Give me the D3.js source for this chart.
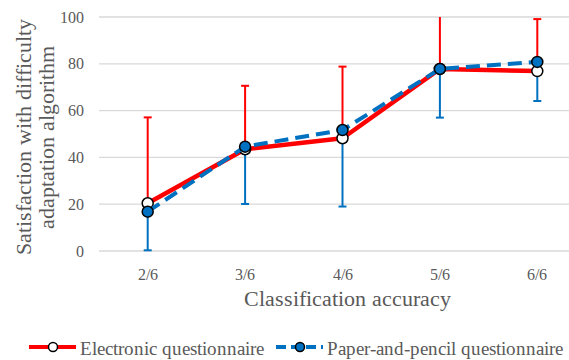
<!DOCTYPE html>
<html>
<head>
<meta charset="utf-8">
<script src="https://cdn.jsdelivr.net/npm/d3@7"></script>
<style>
  @font-face {
    font-family: "ChartSerif";
    src: local("Liberation Serif"), local("LiberationSerif"), local("LiberationSerif-Regular"), local("DejaVu Serif");
  }
</style>
</head>
<body style="margin:0">
<script>
const categories = ["2/6", "3/6", "4/6", "5/6", "6/6"];
const electronic = [20.4, 43.5, 48.2, 77.8, 76.9];
const electronicUpper = [57.1, 70.6, 78.8, 104, 99.1];
const paper = [16.8, 44.6, 51.7, 77.8, 80.8];
const paperLower = [0.3, 20.1, 19.0, 57.0, 64.1];
const yTicks = [0, 20, 40, 60, 80, 100];

const width = 569, height = 360,
      margin = {top: 17, right: -17, bottom: 109, left: 99};

const textColor = "#595959";

const svg = d3.select("body").append("svg")
  .attr("width", width).attr("height", height)
  .style("display", "block")
  .style("font-family", "ChartSerif, 'Liberation Serif', serif");

const x = d3.scaleBand().domain(categories)
  .range([margin.left, width - margin.right]);
const y = d3.scaleLinear().domain([0, 100])
  .range([height - margin.bottom, margin.top]);
const cx = (d) => x(d) + x.bandwidth() / 2;

function label(sel, size) {
  return sel.style("font-family", "ChartSerif, 'Liberation Serif', serif")
    .attr("font-size", size)
    .attr("fill", textColor);
}

svg.append("clipPath").attr("id", "plotclip")
  .append("rect")
  .attr("x", margin.left).attr("y", y(100))
  .attr("width", width).attr("height", y(0) - y(100) + 10);

// gridlines
svg.append("g").selectAll("line").data(yTicks).enter().append("line")
  .attr("x1", margin.left).attr("x2", width)
  .attr("y1", (d) => y(d)).attr("y2", (d) => y(d))
  .attr("stroke", "#d9d9d9").attr("stroke-width", 1.3);

// y tick labels
label(svg.append("g").selectAll("text").data(yTicks).enter().append("text")
  .attr("x", 84).attr("y", (d) => y(d))
  .attr("dy", "0.35em").attr("text-anchor", "end"), 16)
  .text((d) => d);

// x tick labels
label(svg.append("g").selectAll("text").data(categories).enter().append("text")
  .attr("x", (d) => cx(d)).attr("y", 280)
  .attr("text-anchor", "middle"), 16)
  .text((d) => d);

// axis titles
label(svg.append("text")
  .attr("x", 347).attr("y", 306).attr("text-anchor", "middle"), 21.5)
  .text("Classification accuracy");

const yTitle = label(svg.append("text")
  .attr("transform", "translate(0,137) rotate(-90)")
  .attr("text-anchor", "middle"), 21.5);
yTitle.append("tspan").attr("x", 0).attr("y", 31).text("Satisfaction with difficulty");
yTitle.append("tspan").attr("x", 0).attr("y", 54).text("adaptation algorithm");

const plot = svg.append("g").attr("clip-path", "url(#plotclip)");

const red = "#ff0000", blue = "#0070c0";

function errorBars(vals, ends, color) {
  const g = plot.append("g");
  categories.forEach((c, i) => {
    g.append("line")
      .attr("x1", cx(c)).attr("x2", cx(c))
      .attr("y1", y(vals[i])).attr("y2", y(ends[i]))
      .attr("stroke", color).attr("stroke-width", 2);
    g.append("line")
      .attr("x1", cx(c) - 4).attr("x2", cx(c) + 4)
      .attr("y1", y(ends[i])).attr("y2", y(ends[i]))
      .attr("stroke", color).attr("stroke-width", 2);
  });
}

errorBars(electronic, electronicUpper, red);
errorBars(paper, paperLower, blue);

const line = d3.line().x((d, i) => cx(categories[i])).y((d) => y(d));

plot.append("path").datum(electronic)
  .attr("d", line).attr("fill", "none")
  .attr("stroke", red).attr("stroke-width", 4.5).attr("stroke-linejoin", "round");
plot.selectAll(".m-e").data(electronic).enter().append("circle")
  .attr("cx", (d, i) => cx(categories[i])).attr("cy", (d) => y(d))
  .attr("r", 5.5).attr("fill", "#fff").attr("stroke", "#000").attr("stroke-width", 1.5);

plot.append("path").datum(paper)
  .attr("d", line).attr("fill", "none")
  .attr("stroke", blue).attr("stroke-width", 4).attr("stroke-dasharray", "14,7");
plot.selectAll(".m-p").data(paper).enter().append("circle")
  .attr("cx", (d, i) => cx(categories[i])).attr("cy", (d) => y(d))
  .attr("r", 5.5).attr("fill", blue).attr("stroke", "#000").attr("stroke-width", 1.5);

// legend
const legend = [
  {name: "Electronic questionnaire", color: red, fill: "#fff", dash: null, x0: 29},
  {name: "Paper-and-pencil questionnaire", color: blue, fill: blue, dash: "10,5", x0: 276}
];
const lg = svg.append("g").selectAll("g").data(legend).enter().append("g")
  .attr("transform", (d) => "translate(" + d.x0 + ",347)");
lg.append("line").attr("x1", 0).attr("x2", 47)
  .attr("stroke", (d) => d.color).attr("stroke-width", 4)
  .attr("stroke-dasharray", (d) => d.dash);
lg.append("circle").attr("cx", 24).attr("r", 4.5)
  .attr("fill", (d) => d.fill).attr("stroke", "#000").attr("stroke-width", 1.5);
label(lg.append("text").attr("x", 51).attr("y", 4), 19)
  .attr("dy", "0.2em")
  .text((d) => d.name);
</script>
</body>
</html>
